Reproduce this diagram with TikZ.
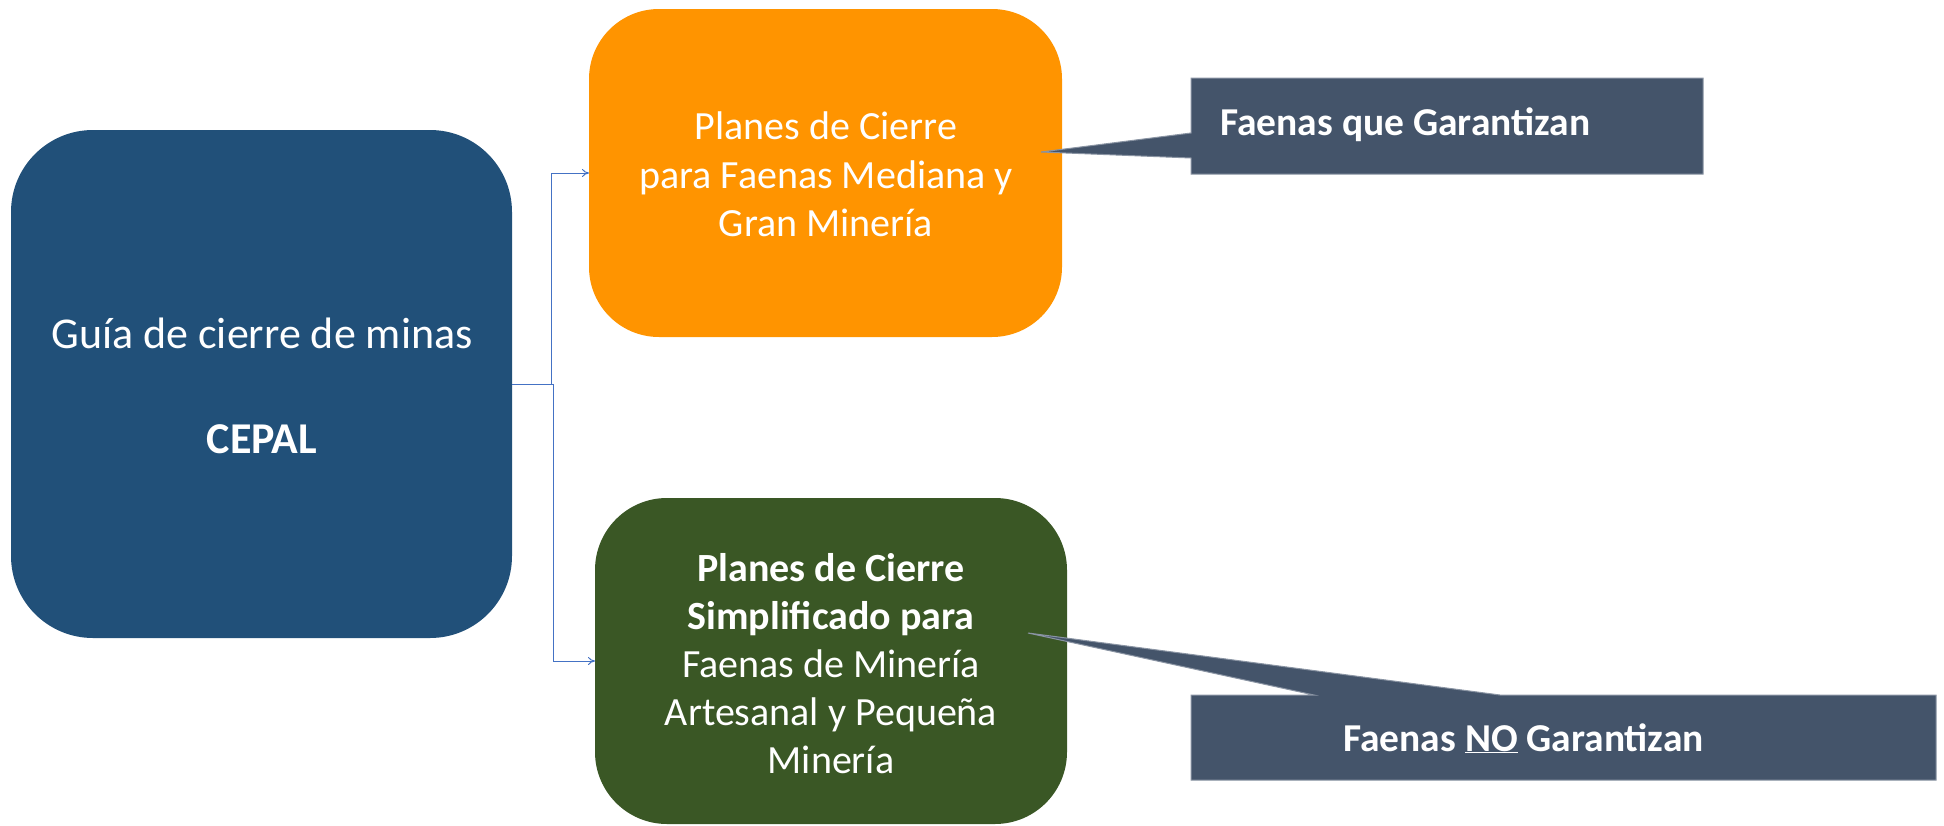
\documentclass[tikz,border=0pt]{standalone}
\usepackage{fontspec}
\setmainfont{Carlito}
\usetikzlibrary{arrows.meta}
\definecolor{cblue}{HTML}{215079}
\definecolor{corange}{HTML}{FF9400}
\definecolor{cgreen}{HTML}{3A5725}
\definecolor{ccall}{HTML}{44546A}
\definecolor{ccallb}{HTML}{8A94A3}
\definecolor{cline}{HTML}{4472C4}
\tikzset{
  box/.style={inner sep=0pt, outer sep=0pt},
  wtxt/.style={text=white, inner sep=0pt, anchor=base, font=\fontsize{40}{48}\selectfont},
  btxt/.style={text=white, inner sep=0pt, anchor=base, font=\fontsize{40}{48}\selectfont\bfseries},
  bigtxt/.style={text=white, inner sep=0pt, anchor=base, font=\fontsize{44}{52}\selectfont},
  ctxt/.style={text=white, inner sep=0pt, anchor=base west, font=\fontsize{39.5}{46}\selectfont\bfseries},
  conn/.style={draw=cline, line width=1pt, -{To[length=7pt,width=8pt]}},
  callout/.style={fill=ccall, draw=ccallb, line width=1pt, line join=miter}
}
\begin{document}
\begin{tikzpicture}[x=1pt,y=-1pt]
\useasboundingbox (0,0) rectangle (1944,825);
% boxes
\node[box, fill=cblue, minimum width=501pt, minimum height=508pt, rounded corners=82pt] (blue) at (261.5,384) {};
\node[box, fill=corange, minimum width=473pt, minimum height=328pt, rounded corners=70pt] (orange) at (825.5,173) {};
\node[box, fill=cgreen, minimum width=472pt, minimum height=326pt, rounded corners=72pt] (green) at (831,661) {};
% connectors
\coordinate (j1) at ([xshift=39pt]blue.east);
\coordinate (j2) at ([xshift=41pt]blue.east);
\draw[conn] (blue.east) -- (j1) |- (orange.west);
\draw[conn] (j1) -- (j2) |- (green.west);
% blue text
\node[bigtxt] (b1) at (262,348) {Guía de cierre de minas};
\node[bigtxt, font=\fontsize{44}{52}\selectfont\bfseries] (b2) at (262,453) {CEPAL};
% orange text
\node[wtxt] (o1) at (826,139) {Planes de Cierre};
\node[wtxt] (o2) at (826,188) {para Faenas Mediana y};
\node[wtxt] (o3) at (826,236) {Gran Minería};
% green text
\node[btxt] (g1) at (831,581) {Planes de Cierre};
\node[btxt] (g2) at (831,629) {Simplificado para};
\node[wtxt] (g3) at (831,677) {Faenas de Minería};
\node[wtxt] (g4) at (831,725) {Artesanal y Pequeña};
\node[wtxt] (g5) at (831,773) {Minería};
% callouts
\draw[callout] (1191,78) -- (1703,78) -- (1703,174) -- (1191,174) -- (1191,158) -- (1041,152) -- (1191,133) -- cycle;
\node[ctxt] (c1) at (1220,135) {Faenas que Garantizan};
\draw[callout] (1191,695) -- (1314,695) -- (1028,633) -- (1500,695) -- (1936,695) -- (1936,780) -- (1191,780) -- cycle;
\node[ctxt] (c2) at (1343,751) {Faenas \underline{NO} Garantizan};
\end{tikzpicture}
\end{document}
